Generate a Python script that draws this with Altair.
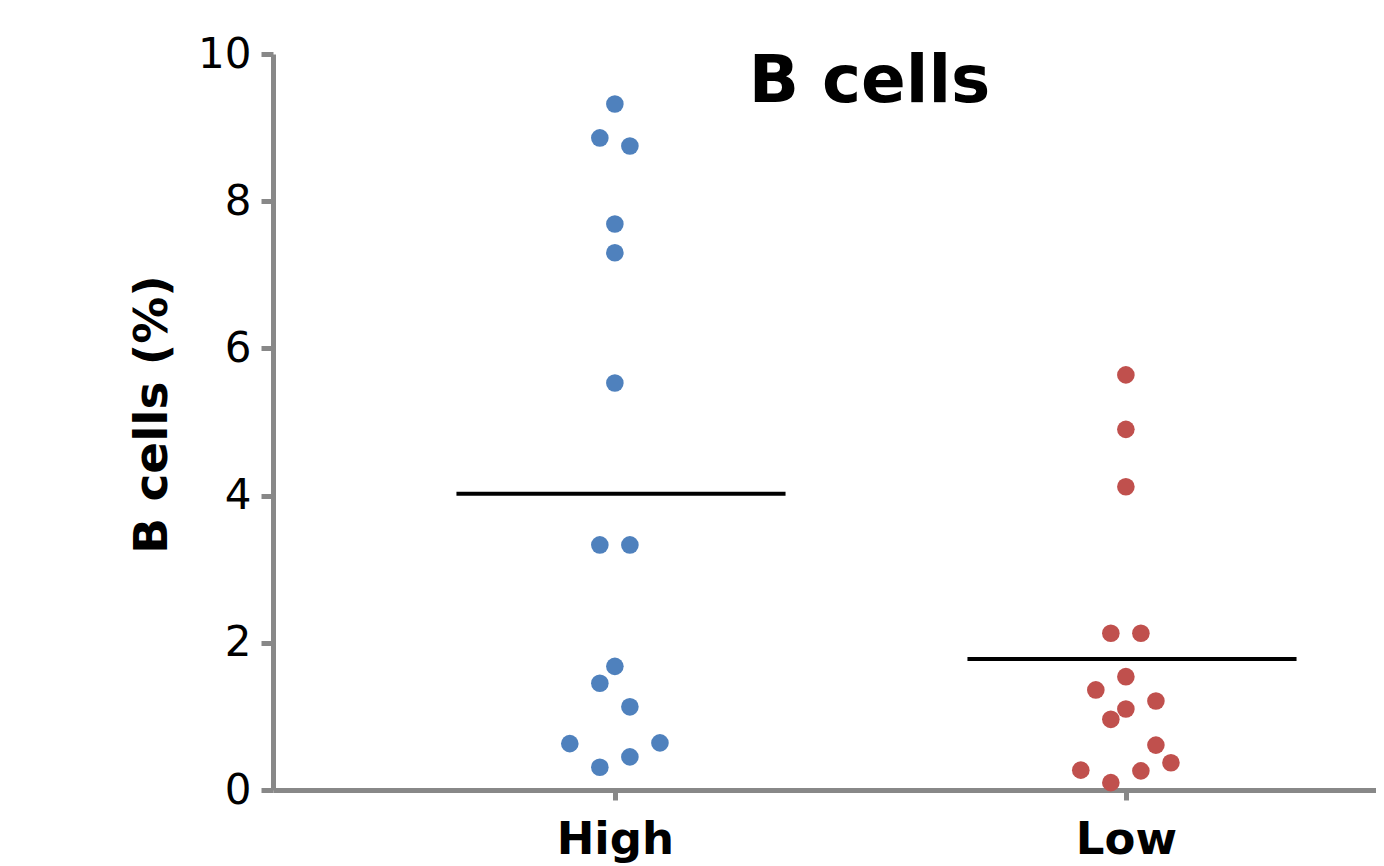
import altair as alt
import pandas as pd

# Data
groups = ["High", "Low"]
high_values = [9.32, 8.86, 8.75, 7.69, 7.30, 5.53, 3.33, 3.33, 1.68, 1.45, 1.13, 0.63, 0.64, 0.31, 0.45]
high_cols = [0, -1, 1, 0, 0, 0, -1, 1, 0, -1, 1, -3, 3, -1, 1]
low_values = [5.64, 4.90, 4.12, 2.13, 2.13, 1.54, 1.36, 1.21, 1.10, 0.96, 0.61, 0.37, 0.27, 0.26, 0.10]
low_cols = [0, 0, 0, -1, 1, 0, -2, 2, 0, -1, 2, 3, -3, 1, -1]
colors = ["#4f81bd", "#c0504d"]

col_step = 0.0294  # beeswarm column spacing in category units

rows = []
for gi, (g, vals, cols) in enumerate([("High", high_values, high_cols), ("Low", low_values, low_cols)]):
    for v, c in zip(vals, cols):
        rows.append({"group": g, "gi": gi, "value": v, "col": c})
df = pd.DataFrame(rows)

font = "DejaVu Sans"

x_scale = alt.Scale(domain=[-0.669, 1.4895], nice=False, zero=False)
y_scale = alt.Scale(domain=[0, 10], nice=False)

base = alt.Chart(df)

points = base.transform_calculate(
    xpos=f"datum.gi + datum.col * {col_step}"
).mark_circle(size=310, opacity=1).encode(
    x=alt.X("xpos:Q", scale=x_scale,
            axis=alt.Axis(values=[0, 1], title=None,
                          labelExpr="datum.value == 0 ? 'High' : 'Low'",
                          labelFont=font, labelFontSize=45, labelFontWeight="bold",
                          labelColor="black", labelPadding=17,
                          domainColor="#888888", domainWidth=5,
                          tickColor="#888888", tickWidth=5, tickSize=10,
                          grid=False, labelFlush=False)),
    y=alt.Y("value:Q", scale=y_scale,
            axis=alt.Axis(values=[0, 2, 4, 6, 8, 10], format="d", title="B cells (%)",
                          labelFont=font, labelFontSize=42, labelColor="black",
                          labelPadding=10,
                          domainColor="#888888", domainWidth=5,
                          tickColor="#888888", tickWidth=5, tickSize=12,
                          grid=False,
                          titleFont=font, titleFontSize=47, titleFontWeight="bold",
                          titleColor="black", titleAngle=-90,
                          titleX=-121, titleY=360,
                          titleAlign="center", titleBaseline="middle")),
    color=alt.Color("group:N", scale=alt.Scale(domain=groups, range=colors), legend=None),
)

means = base.transform_aggregate(
    mean_value="mean(value)", groupby=["group", "gi"]
).transform_calculate(
    x1="datum.gi - 0.31", x2="datum.gi + 0.334"
).mark_rule(color="black", strokeWidth=4).encode(
    x=alt.X("x1:Q", scale=x_scale),
    x2="x2:Q",
    y=alt.Y("mean_value:Q", scale=y_scale),
)

chart = alt.layer(points, means).properties(
    width=1103,
    height=736,
    background="white",
    title=alt.TitleParams("B cells", font=font, fontSize=66, fontWeight="bold",
                          color="black", anchor="middle", dx=45, dy=135, offset=0,
                          baseline="alphabetic"),
    autosize=alt.AutoSizeParams(type="none"),
    padding={"left": 265, "top": 46, "right": 0, "bottom": 76},
).configure_view(strokeWidth=0, stroke="transparent")

chart.save("out.html", embed_options={"renderer": "svg", "actions": False})
